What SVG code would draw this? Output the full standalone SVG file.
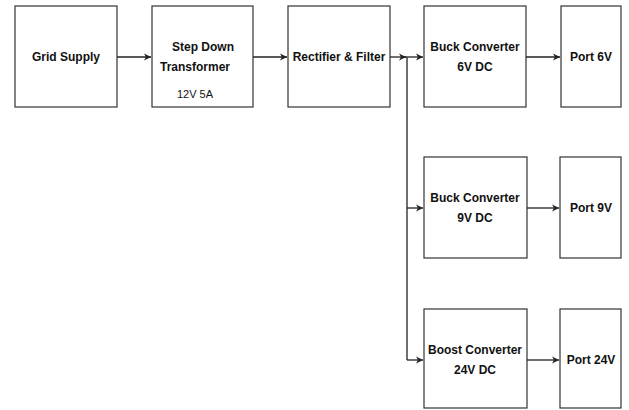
<svg xmlns="http://www.w3.org/2000/svg" width="629" height="410" viewBox="0 0 629 410">
<style>
.box{fill:#fff;stroke:#333;stroke-width:1.2}
.t{font-family:"Liberation Sans",Arial,sans-serif;font-size:12px;font-weight:bold;fill:#111;text-anchor:middle}
.s{font-family:"Liberation Sans",Arial,sans-serif;font-size:11px;fill:#111;text-anchor:middle}
.c{stroke:#222;stroke-width:1.3;fill:none}
</style>
<defs>
<marker id="a" markerWidth="8" markerHeight="8" refX="7" refY="4" orient="auto" markerUnits="userSpaceOnUse">
<path d="M0,0.5 L7,4 L0,7.5 L2,4 Z" fill="#222"/>
</marker>
</defs>
<rect width="629" height="410" fill="#fff"/>
<g id="grid"><rect class="box" x="15" y="6" width="102" height="101"/><text class="t" x="66" y="61">Grid Supply</text></g>
<g id="transformer"><rect class="box" x="152" y="6" width="101" height="101"/><text class="t" x="203" y="51">Step Down</text><text class="t" x="195" y="71">Transformer</text><text class="s" x="195" y="98">12V 5A</text></g>
<g id="rectifier"><rect class="box" x="288" y="6" width="102" height="101"/><text class="t" x="339" y="61">Rectifier &amp; Filter</text></g>
<g id="buck6"><rect class="box" x="424" y="6" width="102" height="101"/><text class="t" x="475" y="51">Buck Converter</text><text class="t" x="475" y="71">6V DC</text></g>
<g id="port6"><rect class="box" x="561" y="6" width="60" height="101"/><text class="t" x="591" y="61">Port 6V</text></g>
<g id="buck9"><rect class="box" x="424" y="157" width="103" height="101"/><text class="t" x="475" y="202">Buck Converter</text><text class="t" x="475" y="222">9V DC</text></g>
<g id="port9"><rect class="box" x="560" y="157" width="61" height="101"/><text class="t" x="591" y="212">Port 9V</text></g>
<g id="boost24"><rect class="box" x="424" y="309" width="103" height="99"/><text class="t" x="475" y="354">Boost Converter</text><text class="t" x="475" y="374">24V DC</text></g>
<g id="port24"><rect class="box" x="560" y="309" width="61" height="99"/><text class="t" x="591" y="364">Port 24V</text></g>
<g id="connectors">
<line class="c" x1="117" y1="57" x2="151" y2="57" marker-end="url(#a)"/>
<line class="c" x1="253" y1="57" x2="287" y2="57" marker-end="url(#a)"/>
<line class="c" x1="390" y1="57" x2="406" y2="57" marker-end="url(#a)"/>
<line class="c" x1="404" y1="57" x2="423" y2="57" marker-end="url(#a)"/>
<line class="c" x1="407" y1="57" x2="407" y2="360"/>
<line class="c" x1="407" y1="208" x2="423" y2="208" marker-end="url(#a)"/>
<line class="c" x1="407" y1="360" x2="423" y2="360" marker-end="url(#a)"/>
<line class="c" x1="526" y1="57" x2="560" y2="57" marker-end="url(#a)"/>
<line class="c" x1="527" y1="208" x2="559" y2="208" marker-end="url(#a)"/>
<line class="c" x1="527" y1="360" x2="559" y2="360" marker-end="url(#a)"/>
</g>
</svg>
